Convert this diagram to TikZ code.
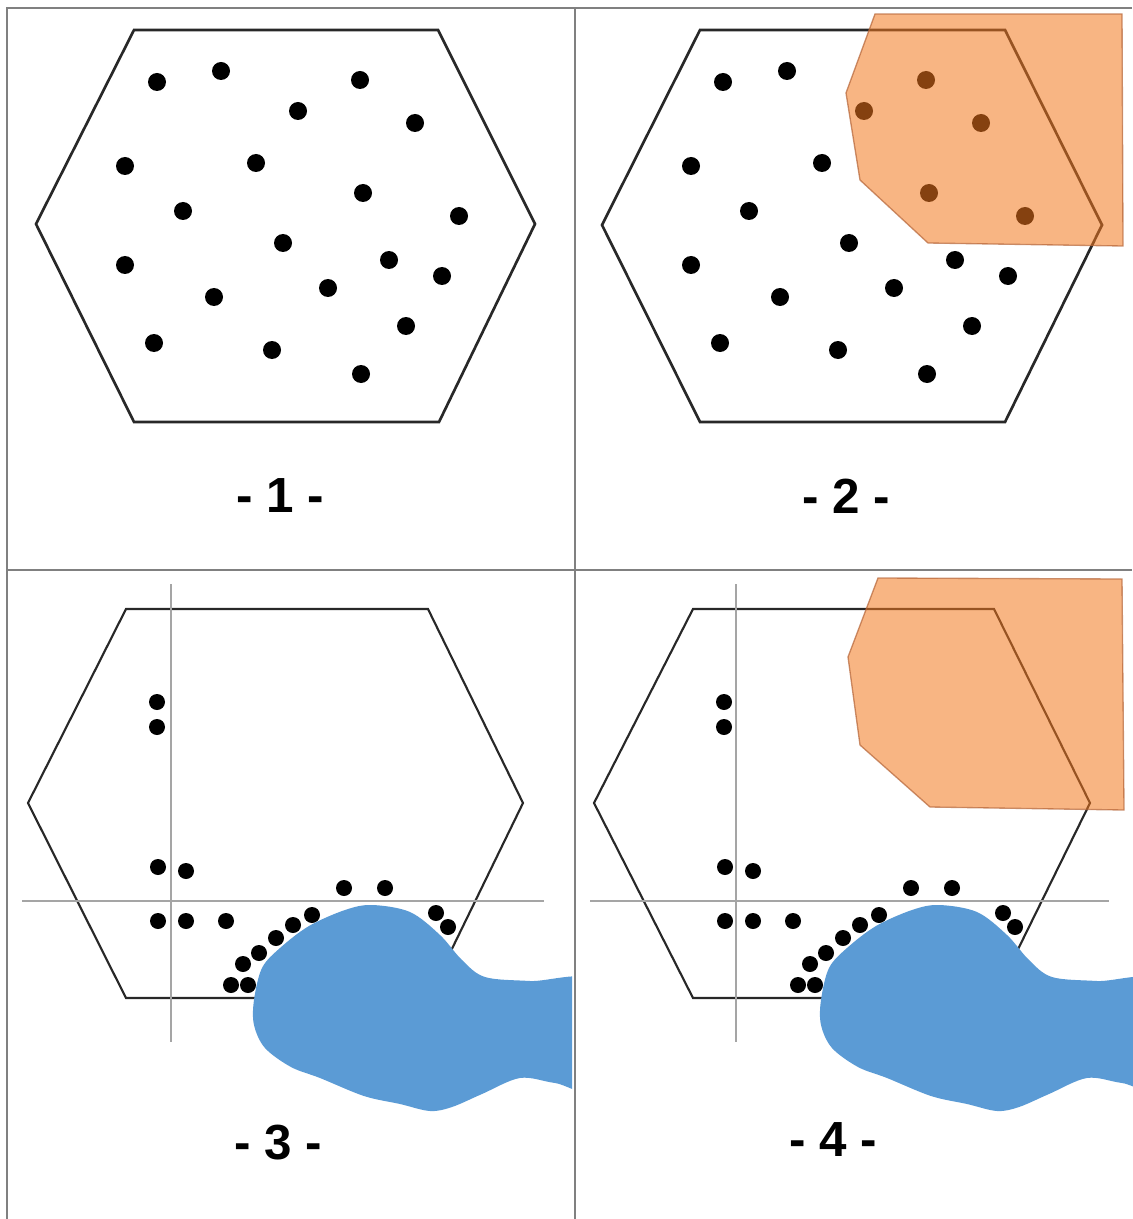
\documentclass[tikz,border=0pt]{standalone}
\usepackage{fontspec}
\setmainfont{Liberation Sans}

\definecolor{framegrey}{RGB}{128,128,128}
\definecolor{hexline}{RGB}{40,40,40}
\definecolor{guidegrey}{RGB}{165,165,165}
\definecolor{zoneorange}{RGB}{243,120,30}
\definecolor{zoneedge}{RGB}{180,100,55}
\definecolor{blobblue}{RGB}{91,155,213}

\tikzset{every picture/.style={line width=0.75pt}}
\tikzset{
  panelframe/.style={draw=framegrey, line width=1.6pt},
  hexa/.style={draw=hexline, line width=2pt},
  hexathin/.style={draw=hexline, line width=1.6pt},
  guide/.style={draw=guidegrey, line width=1pt},
  dot/.style={fill=black},
  zone/.style={fill=zoneorange, fill opacity=0.55, draw=zoneedge, draw opacity=0.7, line width=1pt},
  blob/.style={fill=blobblue},
  steplabel/.style={font=\fontsize{37}{42}\selectfont\bfseries, inner sep=0pt}
}

\begin{document}
\begin{tikzpicture}[x=0.75pt,y=0.75pt,yscale=-1,xscale=1]
\useasboundingbox (0,0) rectangle (1132,1219);

%Frame and dividers
\draw[panelframe] (7,1219) -- (7,8) -- (1132,8) ;
\draw[panelframe] (575,8) -- (575,1219) ;
\draw[panelframe] (7,570) -- (1132,570) ;

%Shape: Hexagon panel 1
\draw[hexa] (134,30) -- (438,30) -- (535,224) -- (439,422) -- (134,422) -- (36,224) -- cycle ;
%Shape: Hexagon panel 2
\draw[hexa] (700,30) -- (1005,30) -- (1102,225) -- (1005,422) -- (700,422) -- (602,225) -- cycle ;
%Shape: Hexagon panel 3
\draw[hexathin] (126,609) -- (428,609) -- (523,803) -- (428,998) -- (126,998) -- (28,803) -- cycle ;
%Shape: Hexagon panel 4
\draw[hexathin] (693,609) -- (994,609) -- (1090,803) -- (994,998) -- (693,998) -- (594,803) -- cycle ;

%Guide lines panels 3 and 4
\draw[guide] (171,584) -- (171,1042) ;
\draw[guide] (22,901) -- (544,901) ;
\draw[guide] (736,584) -- (736,1042) ;
\draw[guide] (590,901) -- (1109,901) ;

%Scattered points panels 1 and 2
\foreach \dx in {0,566}{
  \foreach \px/\py in {157/82,221/71,360/80,298/111,415/123,125/166,256/163,363/193,183/211,459/216,
                       283/243,125/265,389/260,442/276,328/288,214/297,406/326,154/343,272/350,361/374}{
    \fill[dot] (\px+\dx,\py) circle (9) ;
  }
}

%Gathered points panels 3 and 4
\foreach \dx in {0,567}{
  \foreach \px/\py in {157/702,157/727,158/867,186/871,158/921,186/921,226/921,344/888,385/888,
                       312/915,293/925,276/938,259/953,243/964,231/985,248/985,436/913,448/927}{
    \fill[dot] (\px+\dx,\py) circle (8) ;
  }
}

%Shape: Blob panel 3
\begin{scope}
\clip (0,575) rectangle (572,1219);
\fill[blob] plot[smooth cycle, tension=0.55] coordinates {
  (254,1000) (262,968) (280,948) (309,926) (345,910) (372,905) (410,912) (440,935)
  (462,960) (485,977) (530,981) (600,984) (600,1088) (555,1083) (520,1078) (482,1094)
  (452,1107) (430,1111) (400,1104) (364,1096) (320,1078) (291,1067) (265,1048) (254,1025) } ;
\end{scope}
%Shape: Blob panel 4
\begin{scope}[shift={(567,0)}]
\fill[blob] plot[smooth cycle, tension=0.55] coordinates {
  (254,1000) (262,968) (280,948) (309,926) (345,910) (372,905) (410,912) (440,935)
  (462,960) (485,977) (530,981) (600,984) (600,1088) (555,1083) (520,1078) (482,1094)
  (452,1107) (430,1111) (400,1104) (364,1096) (320,1078) (291,1067) (265,1048) (254,1025) } ;
\end{scope}

%Shape: Zone panel 2
\draw[zone] (875,14) -- (1122,14) -- (1123,246) -- (928,243) -- (860,180) -- (846,93) -- cycle ;
%Shape: Zone panel 4
\draw[zone] (878,578) -- (1122,579) -- (1124,810) -- (930,807) -- (860,745) -- (848,657) -- cycle ;

%Labels
\node[steplabel] (lab1) at (280,496) {- 1 -};
\node[steplabel] (lab2) at (846,496) {- 2 -};
\node[steplabel] (lab3) at (278,1143) {- 3 -};
\node[steplabel] (lab4) at (833,1140) {- 4 -};

\end{tikzpicture}
\end{document}
